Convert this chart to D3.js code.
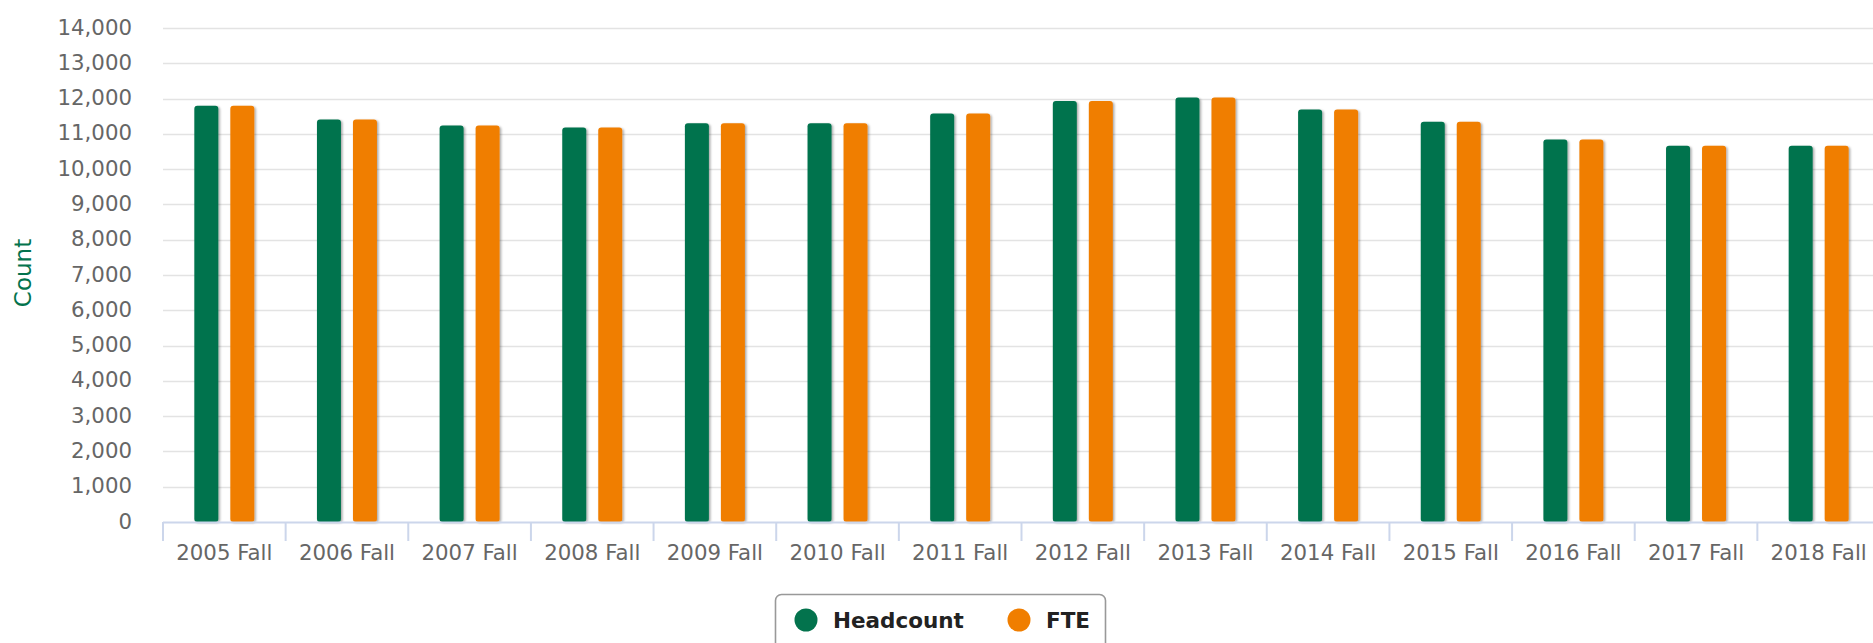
<!DOCTYPE html>
<html>
<head>
<meta charset="utf-8">
<script src="https://cdn.jsdelivr.net/npm/d3@7"></script>
<style>
  html, body { margin: 0; padding: 0; background: #fff; }
  svg { display: block; font-family: "DejaVu Sans", Verdana, sans-serif; }
</style>
</head>
<body>
<svg id="chart" width="1873" height="643"></svg>
<script>
const categories = ["2005 Fall","2006 Fall","2007 Fall","2008 Fall","2009 Fall","2010 Fall","2011 Fall","2012 Fall","2013 Fall","2014 Fall","2015 Fall","2016 Fall","2017 Fall","2018 Fall"];
const headcount = [11800, 11410, 11240, 11180, 11300, 11300, 11580, 11930, 12030, 11690, 11340, 10840, 10660, 10660];
const fte       = [11800, 11410, 11240, 11180, 11300, 11300, 11580, 11930, 12030, 11690, 11340, 10840, 10660, 10660];
const seriesNames = ["Headcount", "FTE"];
const seriesColors = ["#03734d", "#f07e00"];
const yTicks = [0,1000,2000,3000,4000,5000,6000,7000,8000,9000,10000,11000,12000,13000,14000];

(function () {
const svg = d3.select("#chart");
const plotLeft = 163, plotRight = 1880, plotTop = 28, plotBottom = 522;

const x = d3.scaleBand().domain(categories).range([plotLeft, plotRight]).padding(0);
const x1 = d3.scaleBand().domain(seriesNames).range([-42, 42]).paddingInner(1/3).paddingOuter(1/3);
const y = d3.scaleLinear().domain([0, 14000]).range([plotBottom, plotTop]);

const defs = svg.append("defs");
const f = defs.append("filter").attr("id", "shadow").attr("x", "-30%").attr("y", "-5%").attr("width", "160%").attr("height", "110%");
f.append("feDropShadow").attr("dx", 1.5).attr("dy", 1).attr("stdDeviation", 1.3)
  .attr("flood-color", "#000").attr("flood-opacity", 0.35);

// gridlines
svg.append("g").selectAll("line").data(yTicks.filter(d => d > 0)).join("line")
  .attr("x1", plotLeft).attr("x2", 1873)
  .attr("y1", d => Math.round(y(d)) + 0.5).attr("y2", d => Math.round(y(d)) + 0.5)
  .attr("stroke", "#e3e3e3").attr("stroke-width", 1.6);

// y labels
svg.append("g").selectAll("text").data(yTicks).join("text")
  .attr("x", 132).attr("y", d => y(d) + 6.5)
  .attr("text-anchor", "end").attr("font-size", 21.3).attr("fill", "#666")
  .text(d => d3.format(",")(d));

// axis title
svg.append("text")
  .attr("transform", "translate(31,273) rotate(-90)")
  .attr("text-anchor", "middle").attr("font-size", 23).attr("fill", "#03734d")
  .text("Count");

// bars
const data = [headcount, fte];
const groups = svg.append("g").selectAll("g").data(categories).join("g")
  .attr("transform", d => `translate(${x(d) + x.bandwidth() / 2},0)`);
groups.selectAll("rect").data((c, i) => seriesNames.map((s, k) => ({ s, v: data[k][i], k })))
  .join("rect")
  .attr("x", d => x1(d.s)).attr("width", x1.bandwidth())
  .attr("y", d => y(d.v)).attr("height", d => plotBottom - y(d.v))
  .attr("rx", 3).attr("ry", 3)
  .attr("fill", d => seriesColors[d.k])
  .attr("filter", "url(#shadow)");

// x axis
const xAxis = svg.append("g").attr("transform", `translate(0,${plotBottom})`);
xAxis.append("line").attr("x1", plotLeft).attr("x2", 1873).attr("y1", 0.5).attr("y2", 0.5)
  .attr("stroke", "#ccd6eb").attr("stroke-width", 2);
xAxis.selectAll("line.tick").data(categories).join("line").attr("class", "tick")
  .attr("x1", d => x(d)).attr("x2", d => x(d)).attr("y1", 0).attr("y2", 19)
  .attr("stroke", "#ccd6eb").attr("stroke-width", 2);
xAxis.selectAll("text").data(categories).join("text")
  .attr("x", d => x(d) + x.bandwidth() / 2).attr("y", 38)
  .attr("text-anchor", "middle").attr("font-size", 21.3).attr("fill", "#666")
  .text(d => d);

// legend
const lg = svg.append("g");
lg.append("rect").attr("x", 775.5).attr("y", 594.5).attr("width", 330).attr("height", 60)
  .attr("rx", 6).attr("fill", "#fff").attr("stroke", "#999").attr("stroke-width", 1.6);
const legendX = [806, 1019];
seriesNames.forEach((s, k) => {
  lg.append("circle").attr("cx", legendX[k]).attr("cy", 620).attr("r", 11.5).attr("fill", seriesColors[k]);
  lg.append("text").attr("x", legendX[k] + 27).attr("y", 628).attr("font-size", 21.5)
    .attr("font-weight", "bold").attr("fill", "#222").text(s);
});
})();
</script>
</body>
</html>
